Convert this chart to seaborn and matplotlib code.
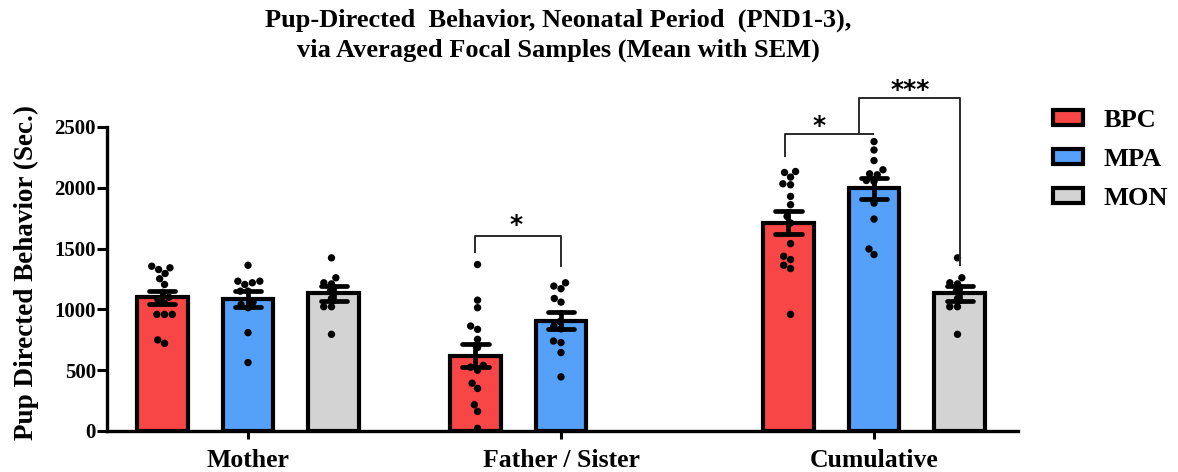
import numpy as np
import pandas as pd
import matplotlib
matplotlib.use("Agg")
import matplotlib.pyplot as plt
import seaborn as sns
from matplotlib.patches import Patch

categories = ["Mother", "Father / Sister", "Cumulative"]
groups = ["BPC", "MPA", "MON"]
colors = ["#F84545", "#55A0F8", "#D3D3D3"]

mother_bpc = [1355, 1342, 1328, 1295, 1252, 1205, 1140, 1100, 1082, 1050, 959, 959, 959, 749, 721]
mother_mpa = [1363, 1232, 1232, 1219, 1205, 1150, 1150, 1040, 1014, 1060, 809, 563]
mother_mon = [1424, 1260, 1219, 1210, 1150, 1090, 1022, 1022, 795]

father_bpc = [1369, 1076, 1014, 863, 836, 754, 686, 540, 525, 500, 393, 350, 216, 161, 22]
father_mpa = [1219, 1192, 1170, 1090, 1060, 900, 840, 863, 740, 727, 645, 445]

cum_bpc = [2134, 2126, 2088, 2033, 2025, 1929, 1861, 1765, 1711, 1541, 1437, 1410, 1363, 1336, 959]
cum_mpa = [2380, 2311, 2224, 2148, 2115, 2107, 2060, 2052, 1874, 1743, 1497, 1451]
cum_mon = [1424, 1260, 1219, 1210, 1150, 1090, 1022, 1022, 795]

yticks = [0, 500, 1000, 1500, 2000, 2500]
title = "Pup-Directed  Behavior, Neonatal Period  (PND1-3),\nvia Averaged Focal Samples (Mean with SEM)"
ylabel = "Pup Directed Behavior (Sec.)"

rows = []
for cat, grp, vals in [("Mother", "BPC", mother_bpc), ("Mother", "MPA", mother_mpa),
                       ("Mother", "MON", mother_mon),
                       ("Father / Sister", "BPC", father_bpc), ("Father / Sister", "MPA", father_mpa),
                       ("Cumulative", "BPC", cum_bpc), ("Cumulative", "MPA", cum_mpa),
                       ("Cumulative", "MON", cum_mon)]:
    for v in vals:
        rows.append((cat, grp, v))
df = pd.DataFrame(rows, columns=["category", "group", "value"])

sns.set_theme(style="ticks")
plt.rcParams["font.family"] = ["Liberation Serif", "DejaVu Serif"]
plt.rcParams["font.weight"] = "bold"
plt.rcParams["text.color"] = "black"
plt.rcParams["axes.labelcolor"] = "black"

W, H = 1178, 472
fig = plt.figure(figsize=(W / 100, H / 100), dpi=100)
ax = fig.add_axes([107 / W, 1 - 431 / H, 911 / W, 304 / H])

bw = 0.82
sns.barplot(data=df, x="category", y="value", hue="group", order=categories,
            hue_order=groups, palette=colors, width=bw, gap=0.41, errorbar="se",
            capsize=0.25, err_kws={"color": "black", "linewidth": 3.4},
            edgecolor="black", linewidth=3, saturation=1, legend=False, ax=ax)
sns.swarmplot(data=df, x="category", y="value", hue="group", order=categories,
              hue_order=groups, dodge=True, palette={g: "black" for g in groups},
              size=5.3, linewidth=0, legend=False, ax=ax, zorder=5)

ax.set_xlim(-0.4505, 2.46)
ax.set_ylim(0, 2500)
ax.set_yticks(yticks)
ax.set_yticklabels([str(t) for t in yticks])
ax.set_xlabel("")
ax.set_ylabel(ylabel, fontsize=19.5, fontweight="bold", color="black")
ax.yaxis.set_label_coords(-0.075, 0.52)
for s in ["top", "right"]:
    ax.spines[s].set_visible(False)
for s in ["left", "bottom"]:
    ax.spines[s].set_linewidth(2.4)
    ax.spines[s].set_color("black")
ax.tick_params(axis="y", length=7, width=2.2, pad=1, labelsize=15, colors="black")
ax.tick_params(axis="x", length=6, width=2.2, pad=7, labelsize=18.5, colors="black")
for lab in ax.get_xticklabels() + ax.get_yticklabels():
    lab.set_fontweight("bold")

slot = bw / 3
lc = "#2a2a2a"
lw = 1.4

def seg(xs, ys):
    ax.plot(xs, ys, color=lc, lw=lw, clip_on=False, zorder=6, solid_capstyle="butt")

# Father / Sister bracket
seg([1 - slot, 1 - slot, 1, 1], [1466, 1604, 1604, 1346])
# Cumulative BPC vs MPA
seg([2 - slot - 0.012, 2 - slot - 0.012, 2.0], [2256, 2443, 2443])
# Cumulative MPA vs MON
seg([1.953, 1.953, 2 + slot, 2 + slot], [2443, 2735, 2735, 1357])

star_kw = dict(ha="center", va="center", fontsize=18, fontweight="bold",
               family="DejaVu Sans", color="black", clip_on=False, zorder=7)
ax.text(0.856, 1690, "*", **star_kw)
ax.text(1.824, 2505, "*", **star_kw)
ax.text(2.115, 2805, "***", **star_kw)

fig.text(558 / W, 1 - 9 / H, title, ha="center", va="top", fontsize=19,
         fontweight="bold", linespacing=1.35, multialignment="center", color="black")

handles = [Patch(facecolor=c, edgecolor="black", linewidth=3, label=g)
           for c, g in zip(colors, groups)]
leg = fig.legend(handles=handles, loc="upper left", bbox_to_anchor=(1053 / W, 1 - 109 / H),
                 bbox_transform=fig.transFigure, frameon=False,
                 handlelength=1.14, handleheight=0.49, handletextpad=0.76,
                 labelspacing=0.6, borderpad=0, borderaxespad=0,
                 prop={"weight": "bold", "size": 19})
for t in leg.get_texts():
    t.set_color("black")

fig.savefig("out.png", dpi=100)
